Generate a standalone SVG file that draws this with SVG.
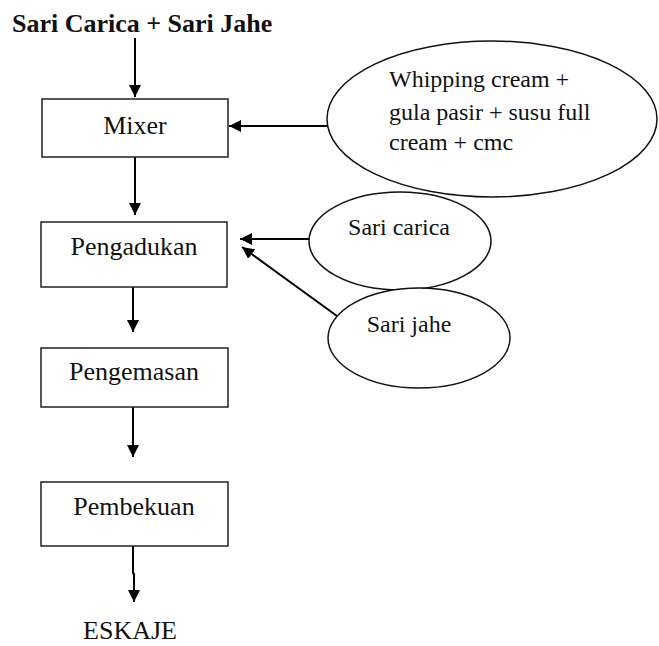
<svg xmlns="http://www.w3.org/2000/svg" width="659" height="646" viewBox="0 0 659 646">
<style>
.box{fill:#fff;stroke:#222;stroke-width:1.5}
.ell{fill:#fff;stroke:#111;stroke-width:1.5}
.t{font-family:"Liberation Serif","Times New Roman",serif;font-size:26px;fill:#111}
.s{font-family:"Liberation Serif","Times New Roman",serif;font-size:24px;fill:#111}
.c{stroke:#000;stroke-width:2;fill:none;marker-end:url(#ah)}
</style>
<defs>
<marker id="ah" markerWidth="12" markerHeight="12" refX="12" refY="6" orient="auto" markerUnits="userSpaceOnUse">
<path d="M0,0 L12,6 L0,12 Z" fill="#000"/>
</marker>
</defs>
<rect width="659" height="646" fill="#fff"/>
<g id="connectors">
<line class="c" x1="135" y1="38" x2="135" y2="97"/>
<line class="c" x1="327" y1="126" x2="229" y2="126"/>
<line class="c" x1="135" y1="157" x2="135" y2="215"/>
<line class="c" x1="309" y1="239" x2="240" y2="239"/>
<line class="c" x1="337" y1="316" x2="242" y2="247"/>
<line class="c" x1="133" y1="284" x2="133" y2="332"/>
<line class="c" x1="133" y1="407" x2="133" y2="457"/>
<path class="c" d="M133,546 L133,573 L134,574 L134,602"/>
</g>
<g id="title"><text x="12" y="32" class="t" font-weight="bold">Sari Carica + Sari Jahe</text></g>
<g id="mixer"><rect class="box" x="42" y="99" width="186" height="58"/><text class="t" x="135" y="134" text-anchor="middle">Mixer</text></g>
<g id="bahan"><ellipse class="ell" cx="492" cy="119" rx="165" ry="78"/>
<text class="s" x="389" y="87">Whipping cream +</text>
<text class="s" x="389" y="120">gula pasir + susu full</text>
<text class="s" x="389" y="150">cream + cmc</text></g>
<g id="pengadukan"><rect class="box" x="41" y="222" width="186" height="65"/><text class="t" x="134" y="255" text-anchor="middle">Pengadukan</text></g>
<g id="saricarica"><ellipse class="ell" cx="400" cy="241" rx="91" ry="49"/><text class="s" x="399" y="235" text-anchor="middle">Sari carica</text></g>
<g id="sarijahe"><ellipse class="ell" cx="419" cy="338" rx="91" ry="50"/><text class="s" x="409" y="332" text-anchor="middle">Sari jahe</text></g>
<g id="pengemasan"><rect class="box" x="41" y="348" width="187" height="59"/><text class="t" x="134" y="380" text-anchor="middle">Pengemasan</text></g>
<g id="pembekuan"><rect class="box" x="41" y="482" width="187" height="64"/><text class="t" x="134" y="515" text-anchor="middle">Pembekuan</text></g>
<g id="eskaje"><text class="t" x="130" y="639" text-anchor="middle">ESKAJE</text></g>
</svg>
